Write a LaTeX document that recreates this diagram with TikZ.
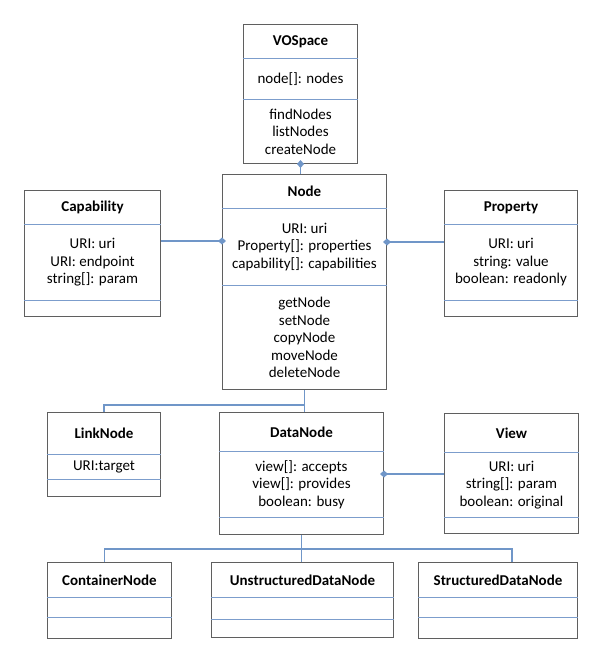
\documentclass[tikz,border=0pt]{standalone}
\usepackage{fontspec}
\setmainfont{Carlito}
\usetikzlibrary{arrows.meta,shapes.multipart,calc}
\definecolor{BoxGray}{HTML}{5F5F5F}
\definecolor{SplitBlue}{HTML}{7C9DCC}
\definecolor{LinkBlue}{HTML}{7096C8}
\newcommand{\cpart}[3]{\parbox[c][#2][c]{#1}{\fontsize{15}{17.5}\selectfont\centering #3}}
\tikzset{
  umlclass/.style = {rectangle split, rectangle split parts=3,
                     rectangle split draw splits=false, draw=BoxGray,
                     line width=1pt, fill=white, inner xsep=0pt,
                     inner ysep=0pt, anchor=north west},
  split/.style    = {draw=SplitBlue, line width=1.3pt},
  link/.style     = {draw=LinkBlue, line width=1.6pt},
  agg/.style      = {link, {Diamond[length=8pt,width=7pt]}-, shorten <=-4pt},
}
\begin{document}
\begin{tikzpicture}[x=1pt,y=-1pt]
  \useasboundingbox[fill=white] (0,0) rectangle (597,645);
  % classes
  \node[umlclass] (vospace) at (243,24) {\cpart{114pt}{33pt}{\textbf{VOSpace}}%
    \nodepart{two}\cpart{114pt}{40pt}{node[]: nodes}%
    \nodepart{three}\cpart{114pt}{63pt}{findNodes\\listNodes\\createNode}};
  \node[umlclass] (basenode) at (222,174) {\cpart{164pt}{33pt}{\textbf{Node}}%
    \nodepart{two}\cpart{164pt}{76pt}{URI: uri\\Property[]: properties\\capability[]: capabilities}%
    \nodepart{three}\cpart{164pt}{103pt}{getNode\\setNode\\copyNode\\moveNode\\deleteNode}};
  \node[umlclass] (capability) at (24,190) {\cpart{136pt}{33pt}{\textbf{Capability}}%
    \nodepart{two}\cpart{136pt}{75pt}{URI: uri\\URI: endpoint\\string[]: param}%
    \nodepart{three}\cpart{136pt}{15pt}{}};
  \node[umlclass] (property) at (444,190) {\cpart{133pt}{33pt}{\textbf{Property}}%
    \nodepart{two}\cpart{133pt}{75pt}{URI: uri\\string: value\\boolean: readonly}%
    \nodepart{three}\cpart{133pt}{15pt}{}};
  \node[umlclass] (linknode) at (47,412) {\cpart{113pt}{41pt}{\textbf{LinkNode}}%
    \nodepart{two}\cpart{113pt}{24pt}{URI:target}%
    \nodepart{three}\cpart{113pt}{16pt}{}};
  \node[umlclass] (datanode) at (219,412) {\cpart{164pt}{38pt}{\textbf{DataNode}}%
    \nodepart{two}\cpart{164pt}{65pt}{view[]: accepts\\view[]: provides\\boolean: busy}%
    \nodepart{three}\cpart{164pt}{16pt}{}};
  \node[umlclass] (view) at (444,413) {\cpart{134pt}{38pt}{\textbf{View}}%
    \nodepart{two}\cpart{134pt}{64pt}{URI: uri\\string[]: param\\boolean: original}%
    \nodepart{three}\cpart{134pt}{15pt}{}};
  \node[umlclass] (container) at (47,562) {\cpart{124pt}{34pt}{\textbf{ContainerNode}}%
    \nodepart{two}\cpart{124pt}{19pt}{}%
    \nodepart{three}\cpart{124pt}{20pt}{}};
  \node[umlclass] (unstructured) at (211,562) {\cpart{182pt}{34pt}{\textbf{UnstructuredDataNode}}%
    \nodepart{two}\cpart{182pt}{21pt}{}%
    \nodepart{three}\cpart{182pt}{17pt}{}};
  \node[umlclass] (structured) at (418,562) {\cpart{159pt}{34pt}{\textbf{StructuredDataNode}}%
    \nodepart{two}\cpart{159pt}{19pt}{}%
    \nodepart{three}\cpart{159pt}{20pt}{}};
  % compartment lines
  \foreach \c in {vospace,basenode,capability,property,linknode,datanode,view,container,unstructured,structured}{
    \draw[split] (\c.text split west) -- (\c.text split east);
    \draw[split] (\c.two split west) -- (\c.two split east);
  }
  % aggregations
  \coordinate (capjoin) at ($(capability.north east)+(0,51)$);
  \coordinate (propjoin) at ($(property.north west)+(0,52)$);
  \coordinate (viewjoin) at ($(view.north west)+(0,61)$);
  \draw[agg] (vospace.south) -- (vospace.south |- basenode.north);
  \draw[agg] (basenode.west |- capjoin) -- (capjoin);
  \draw[agg] (basenode.east |- propjoin) -- (propjoin);
  \draw[agg] (datanode.east |- viewjoin) -- (viewjoin);
  % subclasses
  \coordinate (forknode) at ($(basenode.south)+(0,15)$);
  \draw[link] (basenode.south) -- (basenode.south |- datanode.north);
  \draw[link] (forknode) -| (linknode.north);
  \coordinate (forkdata) at ($(datanode.south)+(0,14)$);
  \draw[link] (datanode.south) -- (datanode.south |- unstructured.north);
  \draw[link] ([xshift=-5pt]container.north) |- (forkdata) -| ([xshift=14pt]structured.north);
\end{tikzpicture}
\end{document}
